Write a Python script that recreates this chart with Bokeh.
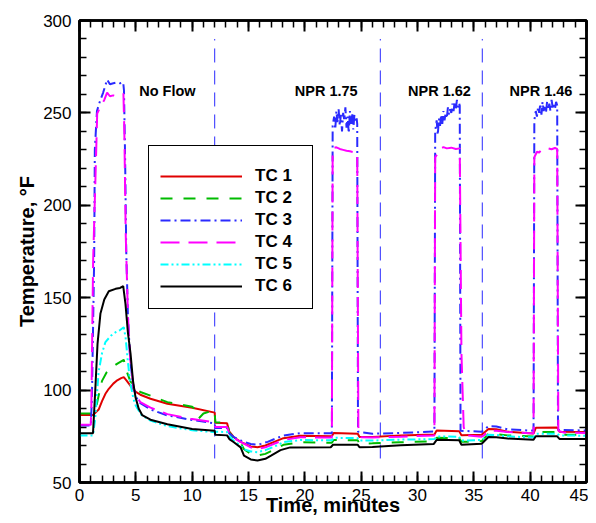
from bokeh.plotting import figure
from bokeh.models import (Range1d, LinearAxis, Legend, LegendItem, SingleIntervalTicker,
                          ColumnDataSource, CustomJSTickFormatter)
from bokeh.core.properties import value
from bokeh.embed import file_html
from bokeh.resources import INLINE

FONT = "Liberation Sans"

# ---------------- data (time in minutes, temperature in deg F) ----------------
tc1 = [(0, 86.5), (1.2, 86.5), (1.45, 88), (1.7, 89.5), (2.0, 94), (2.3, 98), (2.6, 100.7), (3.0, 103.5),
       (3.35, 105.3), (3.7, 106.5), (3.93, 107), (4.2, 105), (4.5, 102.5), (5.0, 99), (5.4, 97.5), (6.3, 95.3),
       (7.8, 92.6), (10.0, 90.5), (12.0, 87.8), (12.05, 82.3), (13.1, 82), (13.3, 77.5), (13.7, 74.5), (14.3, 72),
       (15.2, 69.5), (15.8, 69.1), (16.5, 70), (17.5, 72.5), (18.1, 74), (19.6, 75.3), (22.4, 75.0), (22.55, 76.8),
       (24.7, 76.4), (24.85, 74.6), (26.0, 74.6), (28.5, 75.5), (31.5, 76), (31.7, 78.1), (33.7, 77.8), (33.9, 75.6),
       (35.7, 75.8), (36.3, 79), (37.0, 78.8), (38.0, 77.5), (40.3, 76.5), (40.5, 79.6), (42.4, 79.8), (42.6, 77.4),
       (45.0, 77.3)]

tc2 = [(0, 87.3), (1.2, 87.3), (1.42, 89), (1.7, 97), (2.0, 105), (2.4, 109.5), (2.9, 112.4), (3.4, 114.5),
       (3.93, 116.4), (4.2, 110), (4.5, 105), (5.0, 100.5), (5.4, 99), (6.3, 97), (7.8, 93.5), (10.0, 91),
       (10.3, 89.5), (10.6, 84.8), (11.0, 87.3), (11.5, 88.3), (12.0, 89), (12.05, 82.6), (13.1, 82.3), (13.3, 77),
       (13.7, 74), (14.3, 71.5), (14.6, 68), (15.2, 65.5), (15.8, 64.6), (16.5, 65.5), (17.5, 68.5), (18.1, 70.4),
       (19.6, 71.8), (22.4, 71.5), (22.55, 73), (24.7, 72.8), (24.85, 71), (26.0, 71.2), (28.5, 71.8), (31.5, 72.3),
       (31.7, 74.2), (33.7, 74), (33.9, 72), (35.7, 72.3), (36.3, 76.4), (37.0, 76.2), (38.0, 75.5), (40.3, 74.9),
       (40.5, 77.3), (42.4, 77.3), (42.6, 75.9), (45.0, 75.8)]

tc3 = [(0, 80.8), (1.0, 80.8), (1.1, 95), (1.3, 170), (1.36, 230), (1.55, 251), (1.8, 256), (2.1, 261),
       (2.45, 268), (2.7, 265.5), (3.0, 266), (3.3, 266.5), (3.6, 266), (3.88, 266.5), (3.95, 262), (4.05, 225),
       (4.15, 175), (4.3, 140), (4.5, 116), (4.8, 101), (5.1, 95.5), (5.4, 93), (6.3, 89.5), (7.8, 86.3),
       (9.85, 84), (12.0, 82), (12.05, 79.5), (13.1, 79.5), (13.3, 76.5), (13.7, 74.6), (14.3, 72.7), (15.2, 70.8),
       (15.8, 70.4), (16.1, 70.9), (16.7, 72), (17.5, 74), (18.1, 75.4), (19.6, 76.7), (22.4, 76.6),
       (22.47, 243), (22.6, 248), (22.7, 241), (22.8, 251), (22.9, 245), (23.0, 252), (23.1, 243), (23.2, 249),
       (23.3, 240), (23.4, 250), (23.5, 246), (23.6, 253), (23.7, 242), (23.8, 248), (23.9, 239), (24.0, 251),
       (24.1, 244), (24.2, 250), (24.3, 241), (24.4, 249), (24.5, 245), (24.6, 247), (24.65, 244),
       (24.72, 77.5), (26.0, 76.4), (28.5, 76.8), (31.5, 77.6),
       (31.57, 240), (31.7, 246), (31.8, 238), (31.9, 247), (32.0, 243), (32.1, 249), (32.2, 244), (32.3, 251),
       (32.4, 246), (32.5, 250), (32.6, 247), (32.7, 253), (32.8, 249), (32.9, 252), (33.0, 250), (33.1, 255),
       (33.2, 251), (33.3, 256), (33.4, 252), (33.5, 257), (33.6, 253), (33.7, 255), (33.75, 254),
       (33.82, 78), (35.7, 77.5), (36.3, 80.5), (37.0, 80.3), (38.0, 78.8), (40.3, 78),
       (40.37, 246), (40.5, 251), (40.6, 248), (40.7, 253), (40.8, 250), (40.9, 255), (41.0, 249), (41.1, 256),
       (41.2, 251), (41.3, 254), (41.4, 250), (41.5, 256), (41.6, 252), (41.7, 255), (41.8, 251), (41.9, 257),
       (42.0, 253), (42.1, 255), (42.2, 252), (42.3, 256), (42.4, 254),
       (42.47, 78.5), (45.0, 78.1)]

tc4 = [(0, 81.2), (1.0, 81.2), (1.05, 90), (1.21, 170), (1.48, 229), (1.57, 249.6), (1.9, 254), (2.2, 257),
       (2.45, 261), (2.7, 259), (3.0, 259.5), (3.3, 259), (3.6, 259.5), (3.9, 260.3), (3.98, 240), (4.1, 185),
       (4.3, 140), (4.5, 117), (4.8, 101), (5.1, 96), (5.4, 93.5), (6.3, 90.5), (7.8, 87), (9.85, 84.5),
       (11.9, 82.6), (12.0, 82.5), (12.05, 80), (13.1, 80), (13.3, 76.5), (13.7, 74), (14.3, 72), (15.2, 69),
       (15.8, 68.2), (16.5, 69), (17.5, 71.5), (18.1, 73), (19.6, 74.5), (22.4, 74.3),
       (22.47, 230.8), (22.8, 231.4), (23.1, 230.5), (23.4, 230), (23.7, 229.5), (24.0, 229.2), (24.3, 228.8),
       (24.65, 228.5), (24.75, 80), (25.0, 74.5), (26.0, 74.3), (28.5, 74.8), (31.5, 75.5),
       (31.57, 226), (31.8, 228), (32.0, 230.5), (32.3, 231.5), (32.6, 230.8), (33.0, 231.2), (33.4, 230.5),
       (33.75, 230.8), (33.9, 120), (34.1, 80), (34.3, 75.5), (35.7, 74.8), (35.9, 75.5), (36.3, 78.1),
       (37.0, 78), (38.0, 77.3), (40.3, 76.5),
       (40.37, 226), (40.6, 229), (40.8, 228.5), (41.0, 230.3), (41.3, 230.5), (41.6, 230.8), (41.9, 230.3),
       (42.2, 231), (42.4, 230.5), (42.5, 78), (43.0, 77), (45.0, 76.8)]

tc5 = [(0, 75.5), (1.2, 75.5), (1.4, 85), (1.7, 110), (2.0, 120), (2.3, 126), (2.8, 129.5), (3.2, 131.3),
       (3.6, 132.5), (3.93, 134), (4.1, 128), (4.3, 115), (4.5, 104), (4.8, 95), (5.0, 91.5), (5.5, 86.5),
       (6.3, 83.5), (7.8, 80.5), (10.0, 78.3), (12.0, 77.2), (12.05, 77.5), (13.1, 77.3), (13.3, 75),
       (13.7, 72.5), (14.3, 70), (14.6, 68), (15.2, 66.8), (15.8, 66.4), (16.5, 67.5), (17.5, 70), (18.1, 71.8),
       (19.6, 73), (22.4, 72.8), (22.55, 74.2), (24.7, 74), (24.85, 72.7), (26.0, 72.7), (28.5, 73.2),
       (31.5, 73.5), (31.7, 74.9), (33.7, 74.8), (33.9, 72.7), (35.7, 73), (36.3, 75.9), (37.0, 75.7),
       (38.0, 75), (40.3, 74.3), (40.5, 76.4), (42.4, 76.4), (42.6, 75.5), (45.0, 75.3)]

tc6 = [(0, 76.7), (1.2, 76.7), (1.4, 100), (1.6, 125), (1.86, 141.5), (2.2, 149), (2.6, 153.5), (3.2, 154.8),
       (3.6, 155.3), (3.88, 156.2), (4.08, 146.7), (4.3, 131), (4.53, 119.7), (4.75, 105), (4.97, 96.2),
       (5.25, 90), (5.56, 86.5), (6.3, 84), (7.8, 81.5), (10.0, 79), (12.0, 78), (12.05, 75.8), (13.1, 75.5),
       (13.3, 73.5), (13.7, 71.8), (14.3, 69), (14.6, 64.5), (15.2, 62.5), (15.8, 61.9), (16.5, 62.8),
       (17.0, 64.5), (17.84, 67.5), (18.7, 69), (22.3, 69.1), (22.5, 70.4), (24.7, 70.4), (24.85, 69.1),
       (26.0, 69.2), (28.5, 70.2), (31.45, 70.9), (31.7, 73.1), (33.7, 72.8), (33.9, 70.4), (35.7, 71),
       (36.3, 74.6), (37.0, 74.5), (38.0, 73.8), (40.3, 73.1), (40.5, 75), (42.4, 75), (42.6, 73.6), (45.0, 73.6)]

series_names = ["TC 1", "TC 2", "TC 3", "TC 4", "TC 5", "TC 6"]
series_data = [tc1, tc2, tc3, tc4, tc5, tc6]

event_times = [12.0, 26.7, 35.75]
event_bottom = 63
event_top = 290

phase_names = ["No Flow", "NPR 1.75", "NPR 1.62", "NPR 1.46"]
phase_x = [7.8, 21.9, 31.95, 40.96]
phase_y = 261.7

# ---------------- styles ----------------
colors = ["#e00000", "#00bb00", "#2a2aff", "#ff00ff", "#00ffff", "#000000"]
dashes = ["solid", "12 11", "10 4 2 4", "19 9", "8 3 2 3 2 3", "solid"]

p = figure(width=588, height=523, x_range=Range1d(0, 45), y_range=Range1d(50, 300),
           output_backend="svg", toolbar_location=None,
           min_border_left=79, min_border_right=2, min_border_top=20, min_border_bottom=41,
           x_axis_label="Time, minutes", y_axis_label="Temperature, °F")
p.grid.visible = False
p.outline_line_color = "black"
p.outline_line_width = 2.5
p.background_fill_color = "white"
p.border_fill_color = "white"


def style_axis(ax, interval, show_labels):
    ax.ticker = SingleIntervalTicker(interval=interval, num_minor_ticks=5)
    ax.major_tick_in = 11
    ax.major_tick_out = 0
    ax.minor_tick_in = 7
    ax.minor_tick_out = 0
    ax.major_tick_line_width = 2
    ax.minor_tick_line_width = 1.5
    ax.major_tick_line_color = "black"
    ax.minor_tick_line_color = "black"
    ax.axis_line_width = 2.5
    ax.axis_line_color = "black"
    if show_labels:
        ax.major_label_text_font = FONT
        ax.major_label_text_font_size = "17px"
        ax.major_label_text_color = "black"
    else:
        ax.formatter = CustomJSTickFormatter(code="return ''")
        ax.major_label_standoff = 0


xa = p.xaxis[0]
ya = p.yaxis[0]
style_axis(xa, 5, True)
style_axis(ya, 50, True)
xa.major_label_standoff = 6
ya.major_label_standoff = 8
for ax in (xa, ya):
    ax.axis_label_text_font = FONT
    ax.axis_label_text_font_size = "20px"
    ax.axis_label_text_font_style = "bold"
    ax.axis_label_text_color = "black"
xa.axis_label_standoff = -10
ya.axis_label_standoff = 2

top_axis = LinearAxis()
style_axis(top_axis, 5, False)
p.add_layout(top_axis, "above")
right_axis = LinearAxis()
style_axis(right_axis, 50, False)
p.add_layout(right_axis, "right")

# event lines
p.segment(x0=event_times, y0=[event_bottom] * len(event_times), x1=event_times, y1=[event_top] * len(event_times),
          line_color="#2a2aff", line_width=1, line_dash="14 8")

renderers = []
for name, data, c, d in zip(series_names, series_data, colors, dashes):
    src = ColumnDataSource(dict(t=[a for a, b in data], v=[b for a, b in data]))
    r = p.line("t", "v", source=src, line_color=c, line_width=2, line_dash=d)
    renderers.append(r)

p.text(x=phase_x, y=[phase_y] * len(phase_x), text=phase_names, text_font=value(FONT),
       text_font_size="14.5px", text_font_style="bold", text_align="center",
       text_baseline="alphabetic", text_color="black")

legend = Legend(items=[LegendItem(label=n, renderers=[r]) for n, r in zip(series_names, renderers)],
                location=(69, 173), title=" ", title_text_font_size="6px", title_standoff=2,
                padding=11, spacing=0, glyph_width=82, glyph_height=22, label_height=22,
                label_width=46, label_standoff=13, label_text_font=FONT, label_text_font_size="17px",
                label_text_font_style="bold", label_text_color="black",
                border_line_color="black", border_line_width=1, border_line_alpha=1,
                background_fill_color="white", background_fill_alpha=1, margin=0)
p.add_layout(legend)

open("out.html", "w").write(file_html(p, INLINE))
